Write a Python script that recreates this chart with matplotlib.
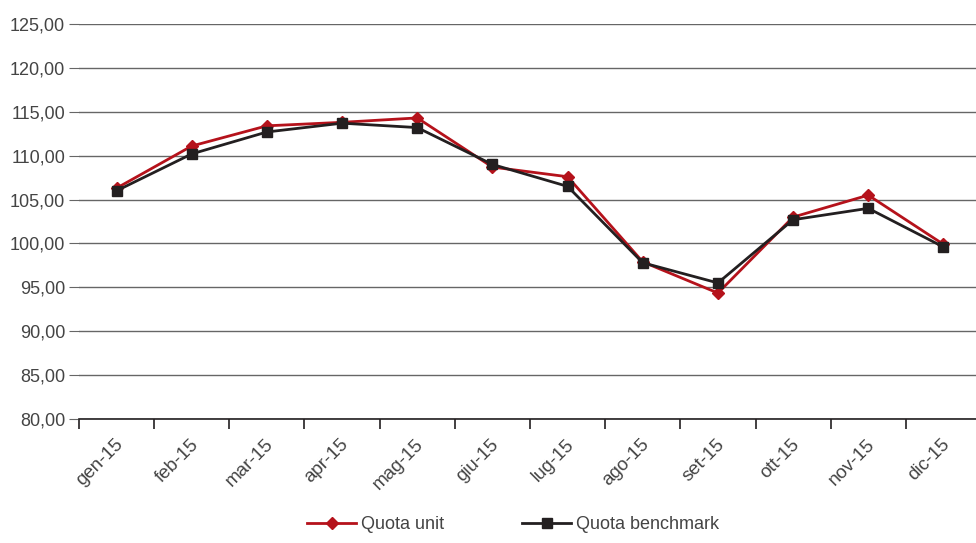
import matplotlib
matplotlib.use("Agg")
import matplotlib.pyplot as plt
import numpy as np
from matplotlib.ticker import FuncFormatter, FixedLocator

months = ["gen-15", "feb-15", "mar-15", "apr-15", "mag-15", "giu-15",
          "lug-15", "ago-15", "set-15", "ott-15", "nov-15", "dic-15"]
quota_unit = [106.3, 111.1, 113.4, 113.8, 114.3, 108.7, 107.6, 97.9, 94.35, 103.0, 105.5, 99.9]
quota_bench = [106.0, 110.2, 112.7, 113.7, 113.2, 109.0, 106.5, 97.8, 95.5, 102.7, 104.0, 99.6]
yticks = [80, 85, 90, 95, 100, 105, 110, 115, 120, 125]

plt.rcParams['font.family'] = ['Liberation Sans', 'DejaVu Sans']
fig = plt.figure(figsize=(9.76, 5.43), dpi=100)
ax = fig.add_axes([79/976, 1-419/543, 902/976, 395/543])

red = '#b5121b'
blk = '#231f20'
x = np.arange(len(months))
ax.plot(x, quota_unit, color=red, lw=2, marker='D', ms=6, label='Quota unit', zorder=3)
ax.plot(x, quota_bench, color=blk, lw=2, marker='s', ms=7, label='Quota benchmark', zorder=4)

ax.set_xlim(-0.5, len(months) - 0.5)
ax.set_ylim(80, 125)
ax.set_yticks(yticks)
ax.yaxis.set_major_formatter(FuncFormatter(lambda v, p: f"{v:.2f}".replace('.', ',')))
ax.grid(axis='y', color='#666666', lw=1)
ax.set_axisbelow(True)
for s in ['top', 'right', 'left']:
    ax.spines[s].set_visible(False)
ax.spines['bottom'].set_color('#231f20')
ax.spines['bottom'].set_linewidth(1.2)
ax.tick_params(axis='y', length=7, color='#666666', labelsize=13, labelcolor='#444444', pad=3)
ax.xaxis.set_major_locator(FixedLocator(np.arange(-0.5, len(months), 1.0)))
ax.xaxis.set_major_formatter(FuncFormatter(lambda v, p: ''))
ax.set_xticks(x, minor=True)
ax.set_xticklabels(months, minor=True, rotation=45, ha='right', rotation_mode='anchor')
ax.tick_params(axis='x', which='major', length=7, color='#231f20', width=1.2, direction='out')
ax.tick_params(axis='x', which='minor', length=0, labelsize=13.5, labelcolor='#444444', pad=12)
for lbl in ax.get_xticklabels(minor=True):
    lbl.set_transform(lbl.get_transform() + matplotlib.transforms.ScaledTranslation(-2/100, 0, fig.dpi_scale_trans))

leg = fig.legend(loc='lower center', bbox_to_anchor=(0.526, -0.012), ncol=2, frameon=False,
                 fontsize=13, handlelength=2.7, handletextpad=0.3, columnspacing=4.3,
                 labelcolor='#444444')
fig.savefig('out.png', dpi=100)
